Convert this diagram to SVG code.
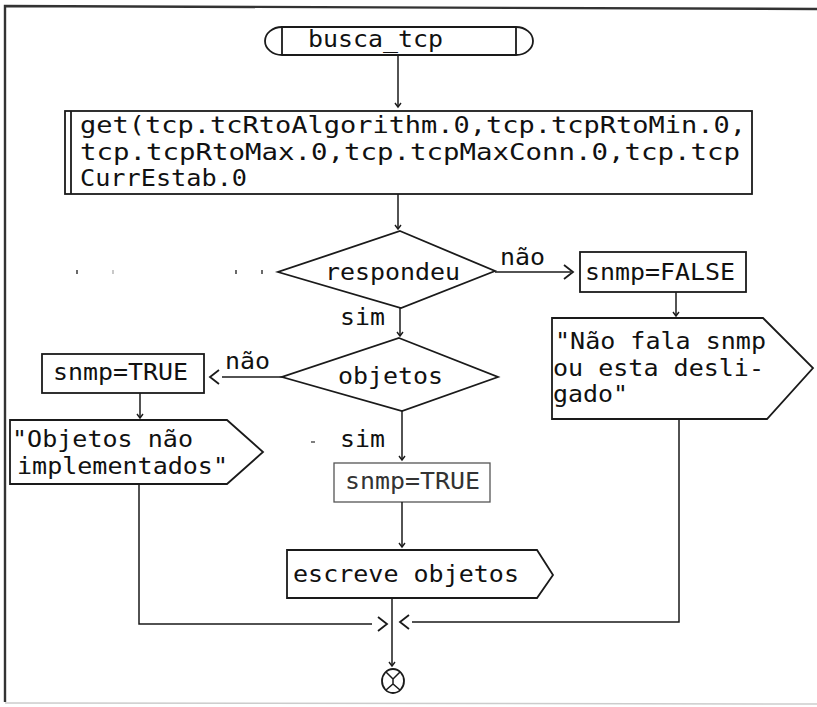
<svg xmlns="http://www.w3.org/2000/svg" width="817" height="707" viewBox="0 0 817 707">
  <style>
    .shape { fill: none; stroke: #1a1a1a; stroke-width: 1.8; stroke-linejoin: miter; }
    .light { fill: none; stroke: #555; stroke-width: 1.3; }
    .wire { fill: none; stroke: #1a1a1a; stroke-width: 1.5; }
    .chev { fill: none; stroke: #1a1a1a; stroke-width: 1.8; }
    text { font-family: "DejaVu Sans Mono", "Liberation Mono", monospace; font-size: 22.5px; fill: #111; }
    .grey { fill: #333; }
  </style>
  <defs>
    <marker id="tip" viewBox="-6 -5 8 10" markerWidth="8" markerHeight="10" refX="0" refY="0" orient="auto" markerUnits="userSpaceOnUse">
      <path d="M-4,-3 L0,0 L-4,3" fill="none" stroke="#1a1a1a" stroke-width="1.4"/>
    </marker>
  </defs>

  <rect width="817" height="707" fill="#ffffff"/>

  <!-- page frame -->
  <g id="frame">
    <path d="M5,702 L5,6 L817,9" fill="none" stroke="#333" stroke-width="2.4"/>
    <path d="M5,703 L817,704" fill="none" stroke="#ccc" stroke-width="1.5"/>
  </g>

  <g id="start">
    <path class="shape" d="M282,27 L516,27 A17,14 0 0 1 516,55 L282,55 A17,14 0 0 1 282,27 Z"/>
    <path class="shape" d="M282,27 L282,55 M516,27 L516,55"/>
    <text x="308" y="47" textLength="135" lengthAdjust="spacingAndGlyphs">busca_tcp</text>
  </g>

  <g id="get">
    <rect class="shape" x="65" y="111" width="687" height="83"/>
    <path class="shape" d="M71,111 L71,194"/>
    <text x="80" y="133"><tspan textLength="666" lengthAdjust="spacingAndGlyphs">get(tcp.tcRtoAlgorithm.0,tcp.tcpRtoMin.0,</tspan><tspan x="80" y="159.5" textLength="660" lengthAdjust="spacingAndGlyphs">tcp.tcpRtoMax.0,tcp.tcpMaxConn.0,tcp.tcp</tspan><tspan x="80" y="186" textLength="167" lengthAdjust="spacingAndGlyphs">CurrEstab.0</tspan></text>
  </g>

  <g id="respondeu">
    <polygon class="shape" points="400,231 495,271 401,308 278,272"/>
    <text x="325" y="280" textLength="135" lengthAdjust="spacingAndGlyphs">respondeu</text>
    <g stroke="#444" stroke-width="1.6">
      <path d="M77,270 L77,274"/>
      <path d="M113,270 L113,274" stroke="#bbb"/>
      <path d="M236,270 L236,274"/>
      <path d="M262,270 L262,274"/>
    </g>
  </g>

  <g id="snmp-false">
    <rect class="shape" x="580" y="252" width="166" height="40"/>
    <text x="585" y="280" textLength="150" lengthAdjust="spacingAndGlyphs">snmp=FALSE</text>
  </g>

  <g id="msg-nao-fala">
    <path class="shape" d="M552,318 L763,318 L813,368 L767,419 L552,419 Z"/>
    <text x="555" y="349"><tspan textLength="211" lengthAdjust="spacingAndGlyphs">"Não fala snmp</tspan><tspan x="553" y="375.5" textLength="211" lengthAdjust="spacingAndGlyphs">ou esta desli-</tspan><tspan x="553" y="402" textLength="75" lengthAdjust="spacingAndGlyphs">gado"</tspan></text>
  </g>

  <g id="objetos">
    <polygon class="shape" points="399,338 498,377 402,411 282,377"/>
    <text x="338" y="384" textLength="105" lengthAdjust="spacingAndGlyphs">objetos</text>
  </g>

  <g id="snmp-true-left">
    <rect class="shape" x="42" y="354" width="162" height="39"/>
    <text x="53" y="380" textLength="135" lengthAdjust="spacingAndGlyphs">snmp=TRUE</text>
  </g>

  <g id="msg-objetos">
    <path class="shape" d="M10,420 L227,420 L263,452 L227,484 L10,484 Z"/>
    <text x="12" y="447"><tspan textLength="181" lengthAdjust="spacingAndGlyphs">"Objetos não</tspan><tspan x="17" y="474" textLength="211" lengthAdjust="spacingAndGlyphs">implementados"</tspan></text>
  </g>

  <g id="snmp-true-mid">
    <rect class="light" x="334" y="463" width="156" height="39"/>
    <text class="grey" x="345" y="489" textLength="135" lengthAdjust="spacingAndGlyphs">snmp=TRUE</text>
  </g>

  <g id="escreve">
    <path class="shape" d="M287,550 L537,550 L553,575 L537,598 L287,598 Z"/>
    <text x="293" y="582" textLength="226" lengthAdjust="spacingAndGlyphs">escreve objetos</text>
  </g>

  <g id="end">
    <ellipse class="shape" cx="393" cy="681" rx="11" ry="12"/>
    <path class="wire" d="M386,672 L393,679 L400,672 M393,679 L393,684 M386,690 L393,684 L400,690"/>
  </g>

  <g id="connectors">
    <path class="wire" d="M398,55 L398,107" marker-end="url(#tip)"/>
    <path class="wire" d="M398,194 L398,229" marker-end="url(#tip)"/>
    <path class="wire" d="M495,272 L571,272"/>
    <path class="chev" d="M564,265 L573,272 L564,279"/>
    <path class="wire" d="M676,292 L676,316" marker-end="url(#tip)"/>
    <path class="wire" d="M679,419 L679,622 L412,622"/>
    <path class="chev" d="M409,615 L400,622 L409,629"/>
    <path class="wire" d="M400,308 L400,336" marker-end="url(#tip)"/>
    <path class="wire" d="M282,377 L222,377"/>
    <path class="chev" d="M219,370 L210,377 L219,384"/>
    <path class="wire" d="M140,393 L140,418" marker-end="url(#tip)"/>
    <path class="wire" d="M139,484 L139,624 L372,624"/>
    <path class="chev" d="M378,617 L387,624 L378,631"/>
    <path class="wire" d="M402,411 L402,460" marker-end="url(#tip)"/>
    <path class="wire" d="M402,502 L402,547" marker-end="url(#tip)"/>
    <path class="wire" d="M392,598 L392,666" marker-end="url(#tip)"/>
    <path d="M311,442 L315,442" stroke="#555" stroke-width="1.5"/>
    <text x="500" y="265" textLength="45" lengthAdjust="spacingAndGlyphs">não</text>
    <text x="340" y="325" textLength="45" lengthAdjust="spacingAndGlyphs">sim</text>
    <text x="225" y="369" textLength="45" lengthAdjust="spacingAndGlyphs">não</text>
    <text x="340" y="447" textLength="45" lengthAdjust="spacingAndGlyphs">sim</text>
  </g>
</svg>
